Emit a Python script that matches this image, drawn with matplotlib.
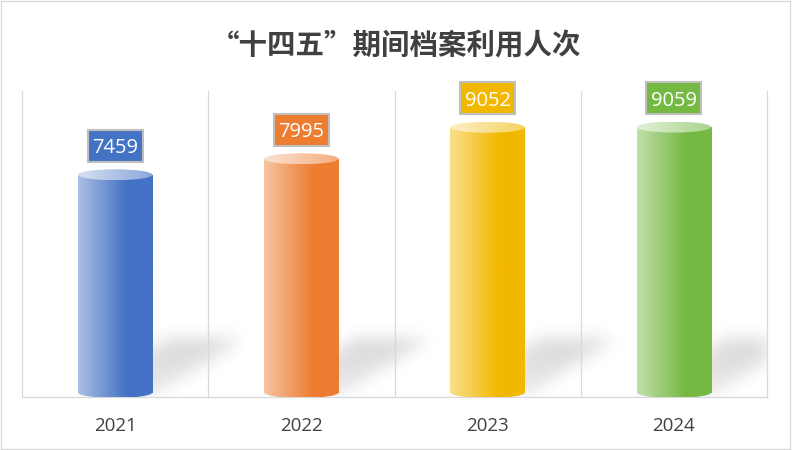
import numpy as np
import matplotlib
matplotlib.use('Agg')
import matplotlib.pyplot as plt
from matplotlib.patches import Rectangle, Ellipse
from matplotlib.colors import to_rgb
from matplotlib.transforms import ScaledTranslation

years = ['2021', '2022', '2023', '2024']
values = [7459, 7995, 9052, 9059]
colors = ['#4472C4', '#ED7D31', '#F2B800', '#75B943']
title = '“十四五”期间档案利用人次'

YMAX = 10270
BAR_W = 0.4

fig = plt.figure(figsize=(7.92, 4.5), dpi=100)
fig.patch.set_facecolor('white')
ax = fig.add_axes([22 / 792, 1 - 397 / 450, 745 / 792, 306 / 450])
ax.set_xlim(-0.5, len(years) - 0.5)
ax.set_ylim(0, YMAX)
for s in ax.spines.values():
    s.set_visible(False)
ax.set_yticks([])
ax.set_xticks(range(len(years)), years)
ax.tick_params(axis='x', length=0, pad=14.5, labelsize=13.5, labelcolor='#404040')
for lab in ax.get_xticklabels():
    lab.set_family('Open Sans')

# grid / frame lines
for b in np.arange(-0.5, len(years), 1.0):
    ax.plot([b, b], [0, YMAX], color='#D9D9D9', lw=0.9, zorder=1.5, clip_on=False)
ax.plot([-0.5, len(years) - 0.5], [0, 0], color='#D9D9D9', lw=0.9, zorder=1.5, clip_on=False)

# pixel scale
p0 = ax.transData.transform((0, 0))
p1 = ax.transData.transform((1, 1))
px_x = p1[0] - p0[0]
px_y = p1[1] - p0[1]
ell_h = 11 / px_y
bot_c = 4.5 / px_y

# shadow layer
W = int(round(ax.bbox.width))
H = int(round(ax.bbox.height))
X = np.arange(W) + 0.5
Y = np.arange(H) + 0.5
XX, YY = np.meshgrid(X, Y)
mask = np.zeros((H, W))
dx, dy = 90.0, 58.0
for i, v in enumerate(values):
    bx0 = (i - BAR_W / 2 + 0.5) * px_x
    bx1 = (i + BAR_W / 2 + 0.5) * px_x
    t = YY / dy
    sh = XX - t * dx
    inside = (sh >= bx0) & (sh <= bx1) & (t <= 1)
    mask = np.maximum(mask, inside * (0.5 + 0.5 * np.clip(t, 0, 1)))
sig = 8.5
k = np.arange(-3 * sig, 3 * sig + 1)
ker = np.exp(-k ** 2 / (2 * sig ** 2))
ker /= ker.sum()
mask = np.apply_along_axis(lambda r: np.convolve(r, ker, mode='same'), 1, mask)
mask = np.apply_along_axis(lambda c: np.convolve(c, ker, mode='same'), 0, mask)
rgba = np.zeros((H, W, 4))
rgba[..., 3] = 0.16 * mask
ax.imshow(rgba, extent=(-0.5, len(years) - 0.5, 0, YMAX), origin='lower',
          aspect='auto', zorder=1, interpolation='bilinear')


def grad(c, m0, m1, knee):
    u = np.linspace(0, 1, 200)
    f = np.clip(u / knee, 0, 1)
    m = m0 + (m1 - m0) * f
    c = np.array(to_rgb(c))
    row = (1 - m)[:, None] * 1.0 + m[:, None] * c[None, :]
    return row[None, :, :]


BOX_W, BOX_H, BOX_OFF = 0.57, 0.34, 0.29  # inches
for i, (v, c) in enumerate(zip(values, colors)):
    x0, x1 = i - BAR_W / 2, i + BAR_W / 2
    g = grad(c, 0.45, 1.0, 0.65)
    # body
    ax.imshow(g, extent=(x0, x1, bot_c, v), aspect='auto', zorder=3,
              interpolation='bilinear')
    # bottom ellipse
    im = ax.imshow(g, extent=(x0, x1, bot_c - ell_h / 2, bot_c + ell_h / 2),
                   aspect='auto', zorder=3, interpolation='bilinear')
    e = Ellipse((i, bot_c), BAR_W, ell_h, transform=ax.transData)
    im.set_clip_path(e)
    # top ellipse
    gt = grad(c, 0.22, 0.62, 1.0)
    im = ax.imshow(gt, extent=(x0, x1, v - ell_h / 2, v + ell_h / 2),
                   aspect='auto', zorder=4, interpolation='bilinear')
    e = Ellipse((i, v), BAR_W, ell_h, transform=ax.transData)
    im.set_clip_path(e)
    # label box
    tr = fig.dpi_scale_trans + ScaledTranslation(i, v, ax.transData)
    ax.add_patch(Rectangle((-BOX_W / 2 + 0.01, BOX_OFF - BOX_H / 2 + 0.01),
                           BOX_W - 0.02, BOX_H - 0.02, transform=tr,
                           fc=c, ec='#BFBFBF', lw=1.5, zorder=6, clip_on=False))
    ax.text(0, BOX_OFF, f'{v}', transform=tr, ha='center', va='center_baseline',
            fontsize=14.5, color='white', family='Open Sans', zorder=7)

ax.set_xlim(-0.5, len(years) - 0.5)
ax.set_ylim(0, YMAX)

fig.text(0.5, 1 - 45 / 450, title, ha='center', va='center', fontsize=20.5,
         fontweight='bold', color='#404040',
         family=['Noto Sans CJK SC', 'DejaVu Sans'])

fig.patches.append(Rectangle((0.001, 0.002), 0.997, 0.996, transform=fig.transFigure,
                             fill=False, ec='#D9D9D9', lw=1.0))

fig.savefig('out.png', dpi=100, facecolor='white')
